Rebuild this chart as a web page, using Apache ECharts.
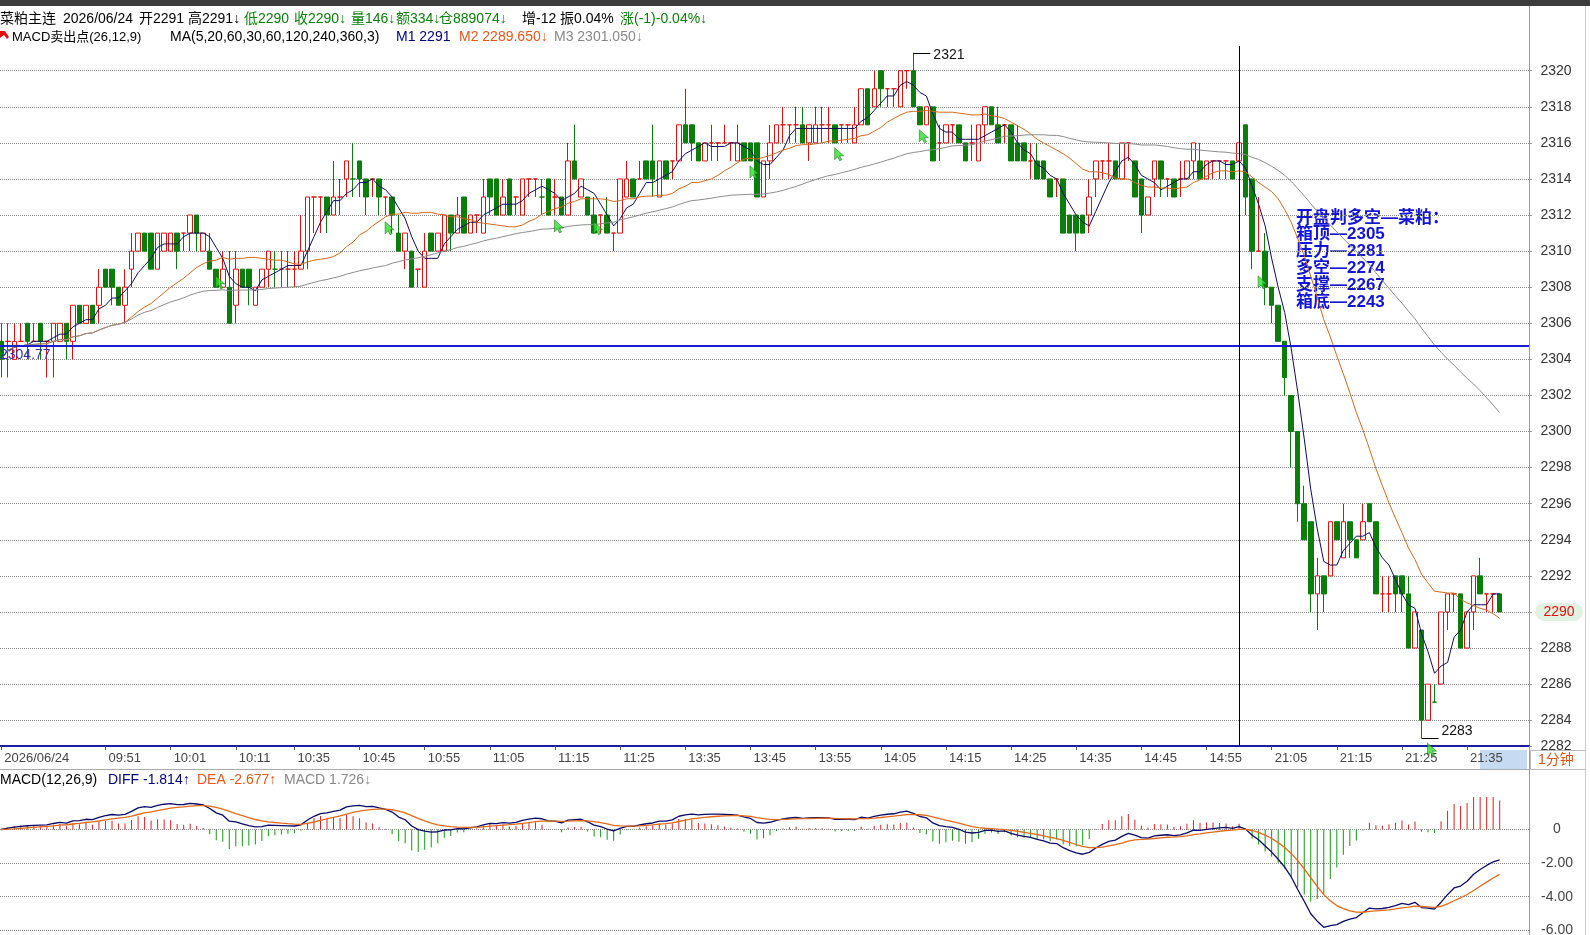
<!DOCTYPE html>
<html>
<head>
<meta charset="utf-8">
<title>菜粕主连 1分钟</title>
<script src="https://cdn.jsdelivr.net/npm/echarts@6.0.0/dist/echarts.min.js"></script>
<style>
  html, body { margin: 0; padding: 0; background: #fff; }
  #chart { width: 1590px; height: 935px; }
</style>
</head>
<body>
<div id="chart"></div>
<script>
// ============================
// 1. 数据
// ============================
const tradeDate = '2026/06/24';
// 交易时段（分钟线按结束时间标注）
const sessions = [['09:35', '10:15'], ['10:31', '11:30'], ['13:31', '15:00'], ['21:01', '21:40']];
// 横轴上显示的时间
const tickLabels = ['09:51', '10:01', '10:11', '10:35', '10:45', '10:55', '11:05', '11:15', '11:25',
  '13:35', '13:45', '13:55', '14:05', '14:15', '14:25', '14:35', '14:45', '14:55',
  '21:05', '21:15', '21:25', '21:35'];

const opens = [
  2305, 2305, 2304, 2305, 2306, 2305, 2306, 2305, 2305, 2305,
  2306, 2305, 2307, 2306, 2307, 2307, 2309, 2309, 2308, 2307,
  2309, 2310, 2311, 2311, 2309, 2310, 2310, 2311, 2311, 2311,
  2312, 2310, 2310, 2309, 2308, 2308, 2307, 2309, 2309, 2307,
  2308, 2309, 2309, 2309, 2309, 2309, 2309, 2310, 2313, 2313,
  2313, 2312, 2313, 2314, 2314, 2315, 2314, 2314, 2314, 2313,
  2313, 2311, 2310, 2310, 2309, 2308, 2311, 2310, 2310, 2312,
  2311, 2313, 2311, 2312, 2311, 2314, 2314, 2312, 2314, 2313,
  2312, 2314, 2314, 2313, 2314, 2313, 2313, 2312, 2315, 2313,
  2313, 2312, 2312, 2312, 2311, 2311, 2313, 2314, 2314, 2315,
  2315, 2313, 2315, 2315, 2315, 2317, 2317, 2316, 2315, 2316,
  2316, 2316, 2316, 2315, 2316, 2316, 2316, 2313, 2315, 2316,
  2317, 2317, 2317, 2317, 2316, 2316, 2317, 2317, 2317, 2317,
  2317, 2316, 2317, 2319, 2318, 2320, 2319, 2319, 2318, 2320,
  2320, 2318, 2317, 2318, 2316, 2316, 2317, 2317, 2316, 2316,
  2315, 2317, 2318, 2317, 2317, 2317, 2316, 2316, 2315, 2315,
  2315, 2314, 2314, 2314, 2312, 2312, 2312, 2312, 2314, 2315,
  2315, 2315, 2314, 2316, 2315, 2314, 2312, 2314, 2315, 2314,
  2314, 2314, 2314, 2315, 2315, 2314, 2315, 2315, 2315, 2315,
  2315, 2317, 2314, 2310, 2310, 2308, 2307, 2305, 2302, 2300,
  2296, 2295, 2291, 2292, 2292, 2295, 2293, 2295, 2294, 2294,
  2296, 2295, 2291, 2291, 2292, 2292, 2291, 2288, 2289, 2284,
  2285, 2286, 2290, 2291, 2291, 2288, 2290, 2292, 2291, 2291,
  2291
];
const highs = [
  2306, 2306, 2306, 2306, 2306, 2306, 2306, 2305, 2306, 2306,
  2306, 2307, 2307, 2307, 2307, 2309, 2309, 2309, 2308, 2309,
  2311, 2311, 2311, 2311, 2311, 2311, 2311, 2311, 2311, 2312,
  2312, 2311, 2311, 2309, 2310, 2310, 2310, 2309, 2309, 2308,
  2309, 2310, 2310, 2310, 2310, 2310, 2312, 2313, 2313, 2313,
  2313, 2315, 2314, 2315, 2316, 2315, 2314, 2314, 2314, 2313,
  2313, 2312, 2311, 2310, 2309, 2311, 2311, 2311, 2312, 2312,
  2313, 2313, 2312, 2312, 2314, 2314, 2314, 2314, 2314, 2313,
  2314, 2314, 2314, 2314, 2314, 2314, 2313, 2316, 2317, 2314,
  2313, 2313, 2312, 2313, 2311, 2314, 2315, 2314, 2315, 2315,
  2317, 2315, 2315, 2315, 2317, 2319, 2317, 2316, 2316, 2317,
  2316, 2317, 2316, 2317, 2316, 2316, 2316, 2315, 2317, 2317,
  2318, 2317, 2318, 2318, 2317, 2318, 2318, 2318, 2317, 2317,
  2317, 2318, 2319, 2319, 2320, 2320, 2319, 2319, 2320, 2320,
  2321, 2318, 2318, 2318, 2317, 2317, 2317, 2317, 2316, 2317,
  2317, 2318, 2318, 2318, 2317, 2317, 2317, 2316, 2316, 2316,
  2315, 2314, 2314, 2314, 2312, 2312, 2312, 2314, 2315, 2315,
  2316, 2315, 2316, 2316, 2315, 2314, 2313, 2315, 2315, 2314,
  2314, 2315, 2315, 2316, 2316, 2315, 2315, 2315, 2315, 2315,
  2316, 2317, 2314, 2313, 2311, 2308, 2307, 2305, 2302, 2300,
  2297, 2295, 2293, 2292, 2295, 2295, 2296, 2295, 2294, 2296,
  2296, 2295, 2292, 2292, 2292, 2292, 2292, 2290, 2289, 2286,
  2286, 2290, 2291, 2291, 2291, 2290, 2292, 2293, 2291, 2291,
  2291
];
const lows = [
  2303, 2303, 2304, 2305, 2304, 2305, 2304, 2303, 2303, 2305,
  2304, 2304, 2306, 2306, 2306, 2306, 2308, 2307, 2307, 2306,
  2308, 2310, 2310, 2309, 2309, 2310, 2310, 2309, 2310, 2310,
  2310, 2310, 2309, 2308, 2308, 2306, 2306, 2308, 2307, 2307,
  2308, 2308, 2308, 2308, 2308, 2308, 2309, 2309, 2311, 2311,
  2311, 2312, 2312, 2313, 2313, 2313, 2312, 2313, 2312, 2312,
  2311, 2310, 2309, 2308, 2308, 2308, 2310, 2310, 2310, 2310,
  2311, 2311, 2311, 2311, 2311, 2312, 2312, 2312, 2312, 2312,
  2312, 2313, 2313, 2312, 2312, 2312, 2312, 2312, 2314, 2313,
  2312, 2311, 2311, 2311, 2310, 2311, 2313, 2313, 2314, 2314,
  2313, 2313, 2314, 2314, 2315, 2316, 2315, 2315, 2315, 2315,
  2315, 2316, 2315, 2315, 2315, 2315, 2313, 2313, 2314, 2316,
  2316, 2316, 2316, 2316, 2315, 2316, 2316, 2316, 2316, 2316,
  2316, 2316, 2317, 2317, 2318, 2318, 2318, 2318, 2318, 2319,
  2318, 2317, 2317, 2315, 2315, 2316, 2316, 2316, 2315, 2315,
  2315, 2316, 2317, 2316, 2316, 2315, 2315, 2315, 2314, 2314,
  2314, 2313, 2313, 2311, 2311, 2310, 2311, 2311, 2313, 2314,
  2314, 2314, 2314, 2315, 2313, 2311, 2312, 2313, 2313, 2313,
  2313, 2313, 2314, 2314, 2314, 2314, 2314, 2314, 2314, 2314,
  2315, 2312, 2309, 2310, 2307, 2306, 2305, 2302, 2298, 2295,
  2294, 2290, 2289, 2290, 2292, 2294, 2293, 2293, 2293, 2294,
  2295, 2291, 2290, 2290, 2290, 2290, 2288, 2288, 2283, 2284,
  2285, 2286, 2289, 2290, 2288, 2288, 2289, 2291, 2290, 2290,
  2290
];
const closes = [
  2304, 2305, 2305, 2305, 2305, 2305, 2305, 2305, 2306, 2306,
  2305, 2307, 2306, 2307, 2306, 2308, 2308, 2308, 2307, 2308,
  2310, 2311, 2310, 2309, 2311, 2311, 2311, 2310, 2311, 2312,
  2311, 2311, 2309, 2308, 2309, 2306, 2309, 2308, 2308, 2308,
  2309, 2310, 2309, 2309, 2309, 2309, 2310, 2313, 2313, 2313,
  2312, 2313, 2313, 2315, 2314, 2314, 2313, 2314, 2313, 2313,
  2312, 2310, 2311, 2308, 2309, 2310, 2310, 2311, 2312, 2311,
  2312, 2311, 2312, 2312, 2313, 2313, 2312, 2313, 2312, 2313,
  2314, 2314, 2314, 2313, 2312, 2313, 2312, 2315, 2314, 2314,
  2312, 2311, 2312, 2311, 2311, 2314, 2314, 2313, 2314, 2314,
  2314, 2315, 2314, 2315, 2317, 2316, 2316, 2315, 2316, 2316,
  2316, 2316, 2316, 2316, 2315, 2315, 2313, 2315, 2316, 2317,
  2317, 2317, 2317, 2316, 2317, 2317, 2317, 2317, 2316, 2317,
  2317, 2317, 2319, 2317, 2319, 2319, 2319, 2319, 2320, 2320,
  2318, 2317, 2318, 2315, 2316, 2317, 2317, 2316, 2315, 2316,
  2317, 2318, 2317, 2316, 2317, 2315, 2315, 2315, 2315, 2314,
  2314, 2313, 2314, 2311, 2311, 2311, 2311, 2313, 2315, 2315,
  2315, 2314, 2316, 2316, 2313, 2312, 2313, 2315, 2314, 2314,
  2313, 2314, 2315, 2316, 2314, 2315, 2315, 2315, 2315, 2314,
  2316, 2313, 2310, 2310, 2308, 2307, 2305, 2303, 2300, 2296,
  2294, 2291, 2292, 2291, 2295, 2294, 2295, 2294, 2293, 2295,
  2295, 2291, 2291, 2291, 2291, 2291, 2288, 2290, 2284, 2286,
  2285, 2290, 2291, 2291, 2288, 2290, 2292, 2291, 2291, 2291,
  2290
];

// 水平参考线（蓝线）
const boxLine = 2304.77;
// MACD 卖出点标记（K线序号, 价格）
const sellIdx = [33, 59, 85, 91, 115, 128, 141, 193, 219];
const sellPrice = [2308.6, 2311.6, 2311.7, 2311.6, 2314.7, 2315.7, 2316.7, 2308.6, 2282.7];
// 右侧注释
const noteLines = ['开盘判多空—菜粕：', '箱顶—2305', '压力—2281', '多空—2274', '支撑—2267', '箱底—2243'];

// ============================
// 2. 派生数据
// ============================
function expandSession(range) {
    const [a, b] = range.map(t => {
        const [h, m] = t.split(':').map(Number);
        return h * 60 + m;
    });
    const out = [];
    for (let t = a; t <= b; t++) {
        out.push(String(Math.floor(t / 60)).padStart(2, '0') + ':' + String(t % 60).padStart(2, '0'));
    }
    return out;
}
const times = sessions.flatMap(expandSession);
// 右边留几根空位
const cats = times.concat(['p1', 'p2', 'p3', 'p4']);

const candles = opens.map((o, i) => [o, closes[i], lows[i], highs[i]]);
const lastClose = closes[closes.length - 1];

function movingAvg(n) {
    return closes.map((c, i) => {
        const from = Math.max(0, i - n + 1);
        let sum = 0;
        for (let j = from; j <= i; j++) sum += closes[j];
        return +(sum / (i - from + 1)).toFixed(3);
    });
}
const ma5 = movingAvg(5);
const ma20 = movingAvg(20);
const ma60 = movingAvg(60);

// MACD(12,26,9)
const diffArr = [], deaArr = [], histArr = [];
let ema12 = closes[0], ema26 = closes[0], dea = 0;
closes.forEach(c => {
    ema12 = (ema12 * 11 + c * 2) / 13;
    ema26 = (ema26 * 25 + c * 2) / 27;
    const diff = ema12 - ema26;
    dea = (dea * 8 + diff * 2) / 10;
    diffArr.push(+diff.toFixed(4));
    deaArr.push(+dea.toFixed(4));
    histArr.push(+(2 * (diff - dea)).toFixed(4));
});

const hiIdx = highs.indexOf(Math.max(...highs));
const loIdx = lows.indexOf(Math.min(...lows));

// ============================
// 3. 图表
// ============================
const FONT = '"Liberation Sans", "Noto Sans CJK SC", sans-serif';
const RED = '#e01010';
const GREEN = '#0a7d0a';

const showTick = (index, value) => index === 0 || tickLabels.indexOf(value) >= 0;

function label(x, y, text, fill, size, weight) {
    return {
        type: 'text', x: x, y: y, silent: true,
        style: { text: text, fill: fill, font: (weight || 'normal') + ' ' + (size || 14) + 'px ' + FONT, verticalAlign: 'middle' }
    };
}

const graphics = [
    { type: 'rect', shape: { x: 0, y: 0, width: 1590, height: 6 }, style: { fill: '#3c3c3c' }, silent: true },
    // 第一行行情
    label(0, 19, '菜粕主连', '#000'),
    label(63, 19, '2026/06/24', '#000'),
    label(139, 19, '开2291', '#000'),
    label(188, 19, '高2291↓', '#000'),
    label(244, 19, '低2290', GREEN),
    label(294, 19, '收2290↓', GREEN),
    label(351, 19, '量146↓', GREEN),
    label(396, 19, '额334↓', GREEN),
    label(439, 19, '仓889074↓', GREEN),
    label(522, 19, '增-12', '#000'),
    label(560, 19, '振0.04%', '#000'),
    label(620, 19, '涨(-1)-0.04%↓', GREEN),
    // 第二行指标
    { type: 'polygon', shape: { points: [[0, 31], [5, 31], [9, 37], [7, 39], [4, 35], [0, 38]] }, style: { fill: '#e01010' }, silent: true },
    label(12, 37, 'MACD卖出点(26,12,9)', '#000', 13),
    label(170, 37, 'MA(5,20,60,30,60,120,240,360,3)', '#000'),
    label(396, 37, 'M1 2291', '#000080'),
    label(459, 37, 'M2 2289.650↓', '#e8561c'),
    label(554, 37, 'M3 2301.050↓', '#888'),
    // MACD 标题
    label(0, 780, 'MACD(12,26,9)', '#000'),
    label(108, 780, 'DIFF -1.814↑', '#000080'),
    label(197, 780, 'DEA -2.677↑', '#e8561c'),
    label(284, 780, 'MACD 1.726↓', '#888'),
    // 时间轴行
    { type: 'rect', z: -10, shape: { x: 1480, y: 750, width: 47, height: 19 }, style: { fill: '#c6dbf1' }, silent: true },
    { type: 'line', shape: { x1: 0, y1: 769.5, x2: 1529, y2: 769.5 }, style: { stroke: '#aaa', lineWidth: 1 }, silent: true },
    { type: 'rect', shape: { x: 1530.5, y: 750.5, width: 55, height: 19 }, style: { fill: '#fff', stroke: '#bbb' }, silent: true },
    label(1538, 760, '1分钟', '#d2561c'),
    { type: 'line', shape: { x1: 1529.5, y1: 6, x2: 1529.5, y2: 935 }, style: { stroke: '#999', lineWidth: 1 }, silent: true },
    { type: 'line', shape: { x1: 1585.5, y1: 6, x2: 1585.5, y2: 935 }, style: { stroke: '#ccc', lineWidth: 1 }, silent: true }
];
noteLines.forEach((t, k) => {
    graphics.push(label(1296, 218 + k * 16.8, t, '#1414d4', 17, 'bold'));
});

const chart = echarts.init(document.getElementById('chart'));
chart.setOption({
    animation: false,
    backgroundColor: '#fff',
    textStyle: { fontFamily: FONT },
    grid: [
        { left: -2, right: 61, top: 46, bottom: 189, outerBoundsMode: 'none' },
        { left: -2, right: 61, top: 797, bottom: 0, outerBoundsMode: 'none' }
    ],
    xAxis: [
        {
            type: 'category', gridIndex: 0, data: cats, boundaryGap: true,
            axisLine: { lineStyle: { color: '#1c1c9c', width: 2 } },
            axisTick: { show: true, interval: showTick, alignWithLabel: true, length: 4, lineStyle: { color: '#555' } },
            axisLabel: {
                interval: showTick, align: 'left', margin: 6, padding: [0, 0, 0, 3],
                color: '#444', fontSize: 13, fontFamily: FONT,
                formatter: (v, i) => i === 0 ? tradeDate : v
            },
            splitLine: { show: false }
        },
        { type: 'category', gridIndex: 1, data: cats, boundaryGap: true, show: false }
    ],
    yAxis: [
        {
            type: 'value', gridIndex: 0, position: 'right',
            min: 2282.57, max: 2321.37, minInterval: 2, maxInterval: 2, splitNumber: 20,
            axisLine: { show: true, lineStyle: { color: '#999' } },
            axisTick: { show: true, length: 3, lineStyle: { color: '#999' } },
            axisLabel: {
                color: '#333', fontSize: 14, fontFamily: FONT, margin: 27, align: 'center',
                showMinLabel: true, showMaxLabel: false,
                formatter: v => v < 2283 ? '2282' : String(v)
            },
            splitLine: { show: true, showMinLine: false, showMaxLine: false, lineStyle: { type: 'dotted', color: '#8a8a8a' } }
        },
        {
            type: 'value', gridIndex: 1, position: 'right',
            min: -6.28, max: 1.934, minInterval: 2, maxInterval: 2, splitNumber: 4,
            axisLine: { show: true, lineStyle: { color: '#999' } },
            axisTick: { show: false },
            axisLabel: {
                color: '#444', fontSize: 14, fontFamily: FONT, margin: 28, align: 'center',
                showMinLabel: false, showMaxLabel: false,
                formatter: v => v === 0 ? '0' : v.toFixed(2)
            },
            splitLine: { show: true, showMinLine: false, showMaxLine: false, lineStyle: { type: 'dotted', color: '#8a8a8a' } }
        }
    ],
    series: [
        {
            name: 'K', type: 'candlestick', xAxisIndex: 0, yAxisIndex: 0,
            data: candles, barWidth: 5, z: 2,
            itemStyle: { color: '#fff', color0: GREEN, borderColor: RED, borderColor0: GREEN, borderWidth: 1 },
            markLine: {
                symbol: 'none', silent: true, animation: false,
                data: [
                    {
                        yAxis: boxLine,
                        lineStyle: { color: '#1c1cd0', width: 2, type: 'solid' },
                        label: { show: true, position: 'insideStartBottom', formatter: String(boxLine), color: '#3434a8', fontSize: 14, fontFamily: FONT, distance: [2, 3] }
                    },
                    { xAxis: '15:00', lineStyle: { color: '#000', width: 1, type: 'solid' }, label: { show: false } }
                ]
            }
        },
        { name: 'M1', type: 'line', data: ma5, symbol: 'none', z: 3, lineStyle: { color: '#0c0c5c', width: 1 } },
        { name: 'M2', type: 'line', data: ma20, symbol: 'none', z: 3, lineStyle: { color: '#d2691e', width: 1 } },
        { name: 'M3', type: 'line', data: ma60, symbol: 'none', z: 3, lineStyle: { color: '#8c8c8c', width: 1 } },
        {
            name: 'sell', type: 'scatter', silent: true, z: 4,
            data: sellIdx.map((x, k) => [x, sellPrice[k]]),
            symbol: 'path://M0,0 L0,12 L3,9 L5,13 L7,12 L5,8 L9,8 Z', symbolSize: [9, 13], symbolOffset: [4, 6],
            itemStyle: { color: '#2ee02e', borderColor: '#0d5a0d', borderWidth: 0.6 }
        },
        {
            // 最高/最低价标注 + 右侧最新价标签
            name: 'extreme', type: 'custom', silent: true, z: 5, clip: false,
            data: [[hiIdx, highs[hiIdx], 1], [loIdx, lows[loIdx], -1], [closes.length - 1, lastClose, 0]],
            renderItem: (params, api) => {
                const pt = api.coord([api.value(0), api.value(1)]);
                const kind = api.value(2);
                if (kind === 0) {
                    const right = params.coordSys.x + params.coordSys.width;
                    return {
                        type: 'group',
                        children: [
                            { type: 'rect', shape: { x: right + 6, y: pt[1] - 9, width: 48, height: 18, r: 9 }, style: { fill: '#e2f2e2' } },
                            { type: 'text', x: right + 30, y: pt[1], style: { text: String(api.value(1)), fill: '#e01010', font: '14px ' + FONT, align: 'center', verticalAlign: 'middle' } }
                        ]
                    };
                }
                const up = kind > 0;
                const y = Math.round(pt[1]) + 0.5;
                return {
                    type: 'group',
                    children: [
                        { type: 'line', shape: { x1: pt[0], y1: y, x2: pt[0] + 17, y2: y }, style: { stroke: '#000', lineWidth: 1 } },
                        {
                            type: 'text', x: pt[0] + 20, y: up ? y + 2 : y,
                            style: { text: String(api.value(1)), fill: '#111', font: '14px ' + FONT, verticalAlign: up ? 'middle' : 'bottom' }
                        }
                    ]
                };
            }
        },
        {
            name: 'MACD', type: 'bar', xAxisIndex: 1, yAxisIndex: 1, data: histArr, barWidth: 1,
            itemStyle: { color: p => p.value >= 0 ? '#e02020' : '#109a10' }
        },
        { name: 'DIFF', type: 'line', xAxisIndex: 1, yAxisIndex: 1, data: diffArr, symbol: 'none', lineStyle: { color: '#0a0a66', width: 1.3 } },
        { name: 'DEA', type: 'line', xAxisIndex: 1, yAxisIndex: 1, data: deaArr, symbol: 'none', lineStyle: { color: '#e06a1c', width: 1.3 } }
    ],
    graphic: graphics
});
</script>
</body>
</html>
